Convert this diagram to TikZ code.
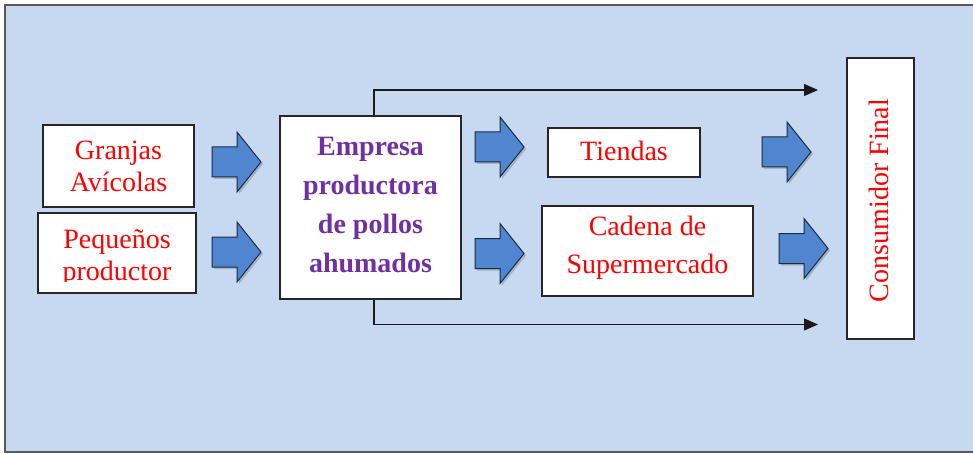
\documentclass[tikz,border=0pt]{standalone}
\usepackage{fontspec}
\setmainfont{Liberation Serif}
\usetikzlibrary{arrows.meta}
\definecolor{panel}{HTML}{C6D9F0}
\definecolor{arrowblue}{HTML}{4F86CF}
\definecolor{arrowline}{HTML}{1E2A40}
\definecolor{txtred}{HTML}{FF0000}
\definecolor{txtpurple}{HTML}{7030A0}
\newcommand\blkarrow[2]{%
  \fill[black,opacity=.18] ({#1+2},{#2-13}) -- ({#1+27},{#2-13}) -- ({#1+27},{#2-28}) -- ({#1+51},{#2+2}) -- ({#1+27},{#2+32}) -- ({#1+27},{#2+17}) -- ({#1+2},{#2+17}) -- cycle;
  \draw[barrow] (#1,{#2-15}) -- ({#1+25},{#2-15}) -- ({#1+25},{#2-30}) -- ({#1+49},#2) -- ({#1+25},{#2+30}) -- ({#1+25},{#2+15}) -- (#1,{#2+15}) -- cycle;}
\tikzset{
  box/.style={draw=black!85, line width=1.1pt, fill=white, inner sep=0pt},
  redtxt/.style={text=txtred, font=\fontsize{28}{32}\selectfont, align=center},
  purptxt/.style={text=txtpurple, font=\bfseries\fontsize{28}{39}\selectfont, align=center},
  barrow/.style={fill=arrowblue, draw=arrowline, line width=1pt, line join=miter},
  conn/.style={draw=black!90, line width=1.1pt, -{Triangle[length=14pt,width=12pt]}}
}
\begin{document}
\begin{tikzpicture}[x=1pt,y=-1pt]
\useasboundingbox (0,0) rectangle (973,454);
\fill[white] (0,0) rectangle (973,454);
\draw[fill=panel, draw=black!65, line width=1.5pt] (5,5) rectangle (990,452);

% boxes
\node[box, minimum width=151pt, minimum height=82pt] (granjas) at (118.5,166) {};
\node[redtxt] at (granjas) {Granjas\\Avícolas};
\node[box, minimum width=158pt, minimum height=80pt] (pequenos) at (117,253) {};
\begin{scope}
  \clip (38,213) rectangle (196,281);
  \node[redtxt, anchor=base] (peqtext) at (117,248) {Pequeños};
  \node[redtxt, anchor=base] (prodtext) at (117,280) {productor};
\end{scope}

\node[box, minimum width=181pt, minimum height=183pt] (empresa) at (370.5,207.5) {};
\node[purptxt] at ([yshift=2]empresa.center) {Empresa\\productora\\de pollos\\ahumados};

\node[box, minimum width=152pt, minimum height=49pt] (tiendas) at (624,152.5) {};
\node[redtxt] at ([yshift=2]tiendas.center) {Tiendas};

\node[box, minimum width=211pt, minimum height=90pt] (cadena) at (647.5,251) {};
\node[redtxt, font=\fontsize{28}{38}\selectfont] at ([yshift=3]cadena.center) {Cadena de\\Supermercado};

\node[box, minimum width=67pt, minimum height=281pt] (consumidor) at (880.5,198.5) {};
\node[redtxt, rotate=90] at ([yshift=-2,xshift=-2]consumidor.center) {Consumidor Final};

% block arrows
\blkarrow{212}{162}
\blkarrow{212}{252}
\blkarrow{475}{147}
\blkarrow{475}{253.5}
\blkarrow{762}{152}
\blkarrow{779}{248.5}

% connectors
\coordinate (topend) at (818,90);
\coordinate (botend) at (818,324.5);
\draw[conn] ([xshift=3.5pt]empresa.north) |- (topend);
\draw[conn] ([xshift=3.5pt]empresa.south) |- (botend);
\end{tikzpicture}
\end{document}
